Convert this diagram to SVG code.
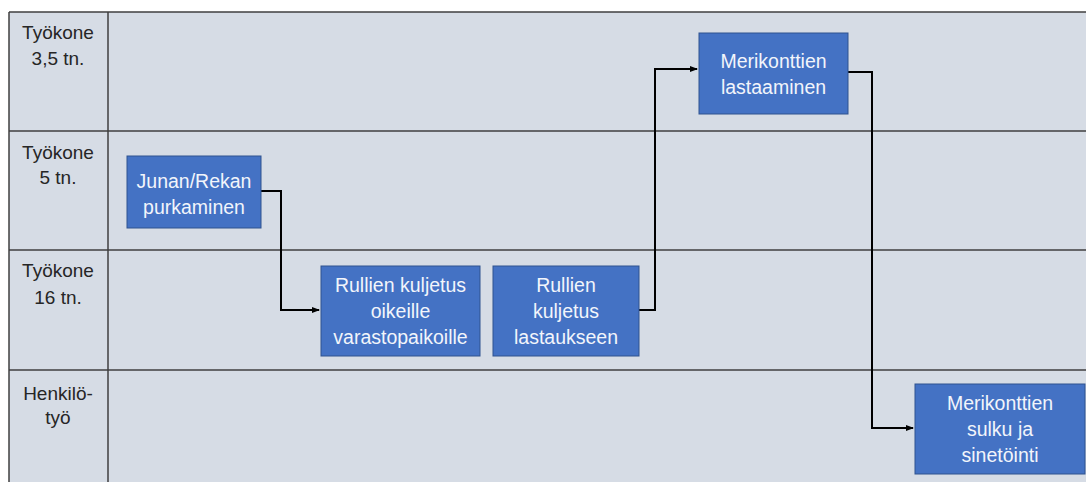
<svg xmlns="http://www.w3.org/2000/svg" width="1086" height="482" viewBox="0 0 1086 482">
<defs>
<marker id="arr" markerWidth="8" markerHeight="8" refX="7" refY="4" orient="auto" markerUnits="userSpaceOnUse">
<path d="M0,1 L8,4 L0,7 Z" fill="#000"/>
</marker>
<style>
.grid{stroke:#3f3f3f;stroke-width:1.5;fill:none}
.lane{font-family:"Liberation Sans",Arial,sans-serif;font-size:19px;fill:#262626;text-anchor:middle}
.box{fill:#4472C4;stroke:#2F528F;stroke-width:1}
.bt{font-family:"Liberation Sans",Arial,sans-serif;font-size:19.5px;fill:#F2F5FB;text-anchor:middle}
.conn{stroke:#000;stroke-width:2;fill:none}
</style>
</defs>
<rect x="0" y="0" width="1086" height="482" fill="#ffffff"/>
<rect x="9" y="12" width="1077" height="470" fill="#D6DCE5"/>
<g id="grid">
<line class="grid" x1="9" y1="12" x2="1086" y2="12"/>
<line class="grid" x1="9" y1="131" x2="1086" y2="131"/>
<line class="grid" x1="9" y1="250" x2="1086" y2="250"/>
<line class="grid" x1="9" y1="370" x2="1086" y2="370"/>
<line class="grid" x1="9" y1="12" x2="9" y2="482"/>
<line class="grid" x1="108" y1="12" x2="108" y2="482"/>
</g>
<g id="lanes">
<text class="lane" x="58" y="39">Työkone</text>
<text class="lane" x="58" y="65">3,5 tn.</text>
<text class="lane" x="58" y="159">Työkone</text>
<text class="lane" x="58" y="184">5 tn.</text>
<text class="lane" x="58" y="277">Työkone</text>
<text class="lane" x="58" y="304">16 tn.</text>
<text class="lane" x="58" y="400">Henkilö-</text>
<text class="lane" x="58" y="424">työ</text>
</g>
<g id="connectors">
<polyline class="conn" points="261,191 281,191 281,310 319,310" marker-end="url(#arr)"/>
<polyline class="conn" points="639,310 655,310 655,69 697,69" marker-end="url(#arr)"/>
<polyline class="conn" points="848,72 872,72 872,428 913,428" marker-end="url(#arr)"/>
</g>
<g id="n1">
<rect class="box" x="127" y="156" width="134" height="72"/>
<text class="bt" x="194" y="188">Junan/Rekan</text>
<text class="bt" x="194" y="214">purkaminen</text>
</g>
<g id="n2">
<rect class="box" x="321" y="266" width="159" height="90"/>
<text class="bt" x="400.5" y="292">Rullien kuljetus</text>
<text class="bt" x="400.5" y="318">oikeille</text>
<text class="bt" x="400.5" y="344">varastopaikoille</text>
</g>
<g id="n3">
<rect class="box" x="493" y="266" width="146" height="90"/>
<text class="bt" x="566" y="292">Rullien</text>
<text class="bt" x="566" y="318">kuljetus</text>
<text class="bt" x="566" y="344">lastaukseen</text>
</g>
<g id="n4">
<rect class="box" x="699" y="33" width="149" height="81"/>
<text class="bt" x="773.5" y="68">Merikonttien</text>
<text class="bt" x="773.5" y="94">lastaaminen</text>
</g>
<g id="n5">
<rect class="box" x="915" y="384" width="170" height="90"/>
<text class="bt" x="1000" y="410">Merikonttien</text>
<text class="bt" x="1000" y="436">sulku ja</text>
<text class="bt" x="1000" y="462">sinetöinti</text>
</g>
</svg>
